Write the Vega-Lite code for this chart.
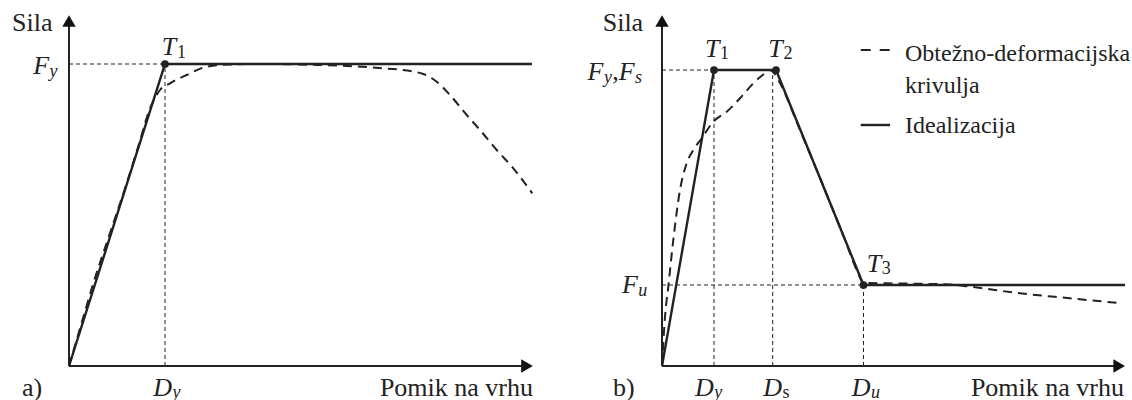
{
  "$schema": "https://vega.github.io/schema/vega-lite/v6.json",
  "padding": 0,
  "spacing": 0,
  "bounds": "flush",
  "background": "white",
  "config": {"view": {"stroke": null}, "text": {"font": "Liberation Serif", "color": "#222"}},
  "datasets": {
    "curves": [
      {"panel": "a", "series": "curve", "x": 0, "y": 0},
      {"panel": "a", "series": "curve", "x": 1.2, "y": 4.1},
      {"panel": "a", "series": "curve", "x": 2.43, "y": 8.27},
      {"panel": "a", "series": "curve", "x": 4.1, "y": 13.3},
      {"panel": "a", "series": "curve", "x": 5.77, "y": 18.27},
      {"panel": "a", "series": "curve", "x": 7.0, "y": 22.2},
      {"panel": "a", "series": "curve", "x": 8.1, "y": 25.77},
      {"panel": "a", "series": "curve", "x": 8.6, "y": 26.8},
      {"panel": "a", "series": "curve", "x": 9.1, "y": 27.6},
      {"panel": "a", "series": "curve", "x": 10.1, "y": 28.27},
      {"panel": "a", "series": "curve", "x": 11.77, "y": 29.1},
      {"panel": "a", "series": "curve", "x": 13.77, "y": 29.93},
      {"panel": "a", "series": "curve", "x": 16.0, "y": 30.15},
      {"panel": "a", "series": "curve", "x": 19.1, "y": 30.2},
      {"panel": "a", "series": "curve", "x": 25.0, "y": 30.1},
      {"panel": "a", "series": "curve", "x": 31.0, "y": 29.8},
      {"panel": "a", "series": "curve", "x": 34.4, "y": 29.45},
      {"panel": "a", "series": "curve", "x": 35.43, "y": 29.2},
      {"panel": "a", "series": "curve", "x": 36.77, "y": 28.43},
      {"panel": "a", "series": "curve", "x": 38.1, "y": 27.1},
      {"panel": "a", "series": "curve", "x": 39.77, "y": 25.1},
      {"panel": "a", "series": "curve", "x": 41.1, "y": 23.6},
      {"panel": "a", "series": "curve", "x": 42.77, "y": 21.6},
      {"panel": "a", "series": "curve", "x": 44.43, "y": 19.77},
      {"panel": "a", "series": "curve", "x": 46.33, "y": 17.27},
      {"panel": "a", "series": "ideal", "x": 0, "y": 0},
      {"panel": "a", "series": "ideal", "x": 9.6, "y": 30.2},
      {"panel": "a", "series": "ideal", "x": 46.3, "y": 30.2},
      {"panel": "b", "series": "curve", "x": 0, "y": 0},
      {"panel": "b", "series": "curve", "x": 0.3, "y": 4.9},
      {"panel": "b", "series": "curve", "x": 0.63, "y": 7.93},
      {"panel": "b", "series": "curve", "x": 1.13, "y": 12.6},
      {"panel": "b", "series": "curve", "x": 1.8, "y": 17.6},
      {"panel": "b", "series": "curve", "x": 2.47, "y": 20.27},
      {"panel": "b", "series": "curve", "x": 3.13, "y": 21.6},
      {"panel": "b", "series": "curve", "x": 3.97, "y": 22.77},
      {"panel": "b", "series": "curve", "x": 5.13, "y": 24.43},
      {"panel": "b", "series": "curve", "x": 6.47, "y": 25.43},
      {"panel": "b", "series": "curve", "x": 7.8, "y": 26.77},
      {"panel": "b", "series": "curve", "x": 9.13, "y": 28.27},
      {"panel": "b", "series": "curve", "x": 10.2, "y": 29.2},
      {"panel": "b", "series": "curve", "x": 10.8, "y": 29.6},
      {"panel": "b", "series": "curve", "x": 11.2, "y": 29.3},
      {"panel": "b", "series": "curve", "x": 11.8, "y": 28.3},
      {"panel": "b", "series": "curve", "x": 13.8, "y": 23.6},
      {"panel": "b", "series": "curve", "x": 15.8, "y": 18.8},
      {"panel": "b", "series": "curve", "x": 18.3, "y": 12.6},
      {"panel": "b", "series": "curve", "x": 19.6, "y": 9.3},
      {"panel": "b", "series": "curve", "x": 20.15, "y": 8.3},
      {"panel": "b", "series": "curve", "x": 23.8, "y": 8.25},
      {"panel": "b", "series": "curve", "x": 28.8, "y": 8.15},
      {"panel": "b", "series": "curve", "x": 30.8, "y": 7.93},
      {"panel": "b", "series": "curve", "x": 35.8, "y": 7.27},
      {"panel": "b", "series": "curve", "x": 40.8, "y": 6.77},
      {"panel": "b", "series": "curve", "x": 45.97, "y": 6.27},
      {"panel": "b", "series": "ideal", "x": 0, "y": 0},
      {"panel": "b", "series": "ideal", "x": 5.2, "y": 29.6},
      {"panel": "b", "series": "ideal", "x": 11.4, "y": 29.6},
      {"panel": "b", "series": "ideal", "x": 20.15, "y": 8.1},
      {"panel": "b", "series": "ideal", "x": 46.3, "y": 8.1}
    ],
    "points": [
      {"panel": "a", "name": "T1", "x": 9.6, "y": 30.2},
      {"panel": "b", "name": "T1", "x": 5.2, "y": 29.6},
      {"panel": "b", "name": "T2", "x": 11.4, "y": 29.6},
      {"panel": "b", "name": "T3", "x": 20.15, "y": 8.1}
    ],
    "guides": [
      {"panel": "a", "x": 0, "y": 30.2, "x2": 9.6, "y2": 30.2},
      {"panel": "a", "x": 9.6, "y": 0, "x2": 9.6, "y2": 30.2},
      {"panel": "b", "x": 0, "y": 29.6, "x2": 5.2, "y2": 29.6},
      {"panel": "b", "x": 5.2, "y": 0, "x2": 5.2, "y2": 29.6},
      {"panel": "b", "x": 11.07, "y": 0, "x2": 11.07, "y2": 29.6},
      {"panel": "b", "x": 0, "y": 8.1, "x2": 20.15, "y2": 8.1},
      {"panel": "b", "x": 20.15, "y": 0, "x2": 20.15, "y2": 8.1}
    ],
    "axes": [
      {"panel": "a", "x": 0, "y": 0, "x2": 0, "y2": 34.2},
      {"panel": "a", "x": 0, "y": 0, "x2": 45.6, "y2": 0},
      {"panel": "b", "x": 0, "y": 0, "x2": 0, "y2": 34.2},
      {"panel": "b", "x": 0, "y": 0, "x2": 45.5, "y2": 0}
    ],
    "arrows": [
      {"panel": "a", "axis": "y", "x": 0, "y": 34.5},
      {"panel": "a", "axis": "x", "x": 45.8, "y": 0},
      {"panel": "b", "axis": "y", "x": 0, "y": 34.5},
      {"panel": "b", "axis": "x", "x": 45.72, "y": 0}
    ],
    "legend": [
      {"panel": "b", "kind": "curve", "x": 19.87, "y": 31.6, "x2": 22.8, "y2": 31.6},
      {"panel": "b", "kind": "ideal", "x": 19.87, "y": 24.1, "x2": 22.8, "y2": 24.1}
    ],
    "labels": [
      {"panel": "a", "role": "textL", "x": -5.7, "y": 33.55, "text": "Sila"},
      {"panel": "a", "role": "main", "x": -3.57, "y": 29.17, "text": "F"},
      {"panel": "a", "role": "sub", "x": -1.95, "y": 28.95, "text": "y"},
      {"panel": "a", "role": "main", "x": 9.27, "y": 31.1, "text": "T"},
      {"panel": "a", "role": "num", "x": 10.8, "y": 30.85, "text": "1"},
      {"panel": "a", "role": "main", "x": 8.43, "y": -3.0, "text": "D"},
      {"panel": "a", "role": "sub", "x": 10.35, "y": -3.2, "text": "y"},
      {"panel": "a", "role": "textL", "x": -4.7, "y": -3.0, "text": "a)"},
      {"panel": "a", "role": "textR", "x": 46.4, "y": -2.95, "text": "Pomik na vrhu"},
      {"panel": "b", "role": "textL", "x": -5.93, "y": 33.55, "text": "Sila"},
      {"panel": "b", "role": "main", "x": -7.45, "y": 28.6, "text": "F"},
      {"panel": "b", "role": "sub", "x": -5.8, "y": 28.35, "text": "y"},
      {"panel": "b", "role": "textL", "x": -4.98, "y": 28.6, "text": ","},
      {"panel": "b", "role": "main", "x": -4.32, "y": 28.6, "text": "F"},
      {"panel": "b", "role": "sub", "x": -2.7, "y": 28.35, "text": "s"},
      {"panel": "b", "role": "main", "x": -4.0, "y": 7.3, "text": "F"},
      {"panel": "b", "role": "sub", "x": -2.38, "y": 7.05, "text": "u"},
      {"panel": "b", "role": "main", "x": 4.3, "y": 30.9, "text": "T"},
      {"panel": "b", "role": "num", "x": 5.8, "y": 30.7, "text": "1"},
      {"panel": "b", "role": "main", "x": 10.63, "y": 30.9, "text": "T"},
      {"panel": "b", "role": "num", "x": 12.15, "y": 30.7, "text": "2"},
      {"panel": "b", "role": "main", "x": 20.47, "y": 9.4, "text": "T"},
      {"panel": "b", "role": "num", "x": 21.97, "y": 9.2, "text": "3"},
      {"panel": "b", "role": "main", "x": 3.3, "y": -3.0, "text": "D"},
      {"panel": "b", "role": "sub", "x": 5.22, "y": -3.2, "text": "y"},
      {"panel": "b", "role": "main", "x": 10.13, "y": -3.0, "text": "D"},
      {"panel": "b", "role": "num", "x": 12.05, "y": -3.2, "text": "s"},
      {"panel": "b", "role": "main", "x": 18.97, "y": -3.0, "text": "D"},
      {"panel": "b", "role": "sub", "x": 20.89, "y": -3.2, "text": "u"},
      {"panel": "b", "role": "textL", "x": -4.9, "y": -3.0, "text": "b)"},
      {"panel": "b", "role": "textR", "x": 46.2, "y": -2.95, "text": "Pomik na vrhu"},
      {"panel": "b", "role": "legend", "x": 24.3, "y": 30.5, "text": "Obtežno-deformacijska"},
      {"panel": "b", "role": "legend", "x": 24.3, "y": 27.3, "text": "krivulja"},
      {"panel": "b", "role": "legend", "x": 24.3, "y": 23.3, "text": "Idealizacija"}
    ]
  },
  "hconcat": [
    {
      "width": 566,
      "height": 400,
      "encoding": {
        "x": {"field": "x", "type": "quantitative", "scale": {"domain": [-6.9, 49.7], "nice": false, "zero": false}, "axis": null},
        "y": {"field": "y", "type": "quantitative", "scale": {"domain": [-3.4, 36.6], "nice": false, "zero": false}, "axis": null}
      },
      "layer": [
        {"data": {"name": "guides"}, "transform": [{"filter": "datum.panel === 'a'"}], "mark": {"type": "rule", "strokeDash": [4, 3], "strokeWidth": 1, "color": "#222"}, "encoding": {"x2": {"field": "x2"}, "y2": {"field": "y2"}}},
        {"data": {"name": "axes"}, "transform": [{"filter": "datum.panel === 'a'"}], "mark": {"type": "rule", "strokeWidth": 2, "color": "#222"}, "encoding": {"x2": {"field": "x2"}, "y2": {"field": "y2"}}},
        {"data": {"name": "arrows"}, "transform": [{"filter": "datum.panel === 'a' && datum.axis === 'y'"}], "mark": {"type": "point", "shape": "triangle-up", "filled": true, "size": 180, "color": "#111", "opacity": 1}},
        {"data": {"name": "arrows"}, "transform": [{"filter": "datum.panel === 'a' && datum.axis === 'x'"}], "mark": {"type": "point", "shape": "triangle-right", "filled": true, "size": 180, "color": "#111", "opacity": 1}},
        {"data": {"name": "curves"}, "transform": [{"filter": "datum.panel === 'a' && datum.series === 'curve'"}], "mark": {"type": "line", "strokeDash": [9, 6], "strokeWidth": 2, "color": "#222", "interpolate": "monotone"}},
        {"data": {"name": "curves"}, "transform": [{"filter": "datum.panel === 'a' && datum.series === 'ideal'"}], "mark": {"type": "line", "strokeWidth": 2.4, "color": "#222"}},
        {"data": {"name": "points"}, "transform": [{"filter": "datum.panel === 'a'"}], "mark": {"type": "circle", "size": 60, "color": "#222", "opacity": 1}},
        {"data": {"name": "labels"}, "transform": [{"filter": "datum.panel === 'a' && datum.role === 'main'"}], "mark": {"type": "text", "font": "Liberation Serif", "align": "left", "baseline": "alphabetic", "fontSize": 26, "fontStyle": "italic"}, "encoding": {"text": {"field": "text"}}},
        {"data": {"name": "labels"}, "transform": [{"filter": "datum.panel === 'a' && datum.role === 'sub'"}], "mark": {"type": "text", "font": "Liberation Serif", "align": "left", "baseline": "alphabetic", "fontSize": 18, "fontStyle": "italic"}, "encoding": {"text": {"field": "text"}}},
        {"data": {"name": "labels"}, "transform": [{"filter": "datum.panel === 'a' && datum.role === 'num'"}], "mark": {"type": "text", "font": "Liberation Serif", "align": "left", "baseline": "alphabetic", "fontSize": 18}, "encoding": {"text": {"field": "text"}}},
        {"data": {"name": "labels"}, "transform": [{"filter": "datum.panel === 'a' && datum.role === 'textL'"}], "mark": {"type": "text", "font": "Liberation Serif", "align": "left", "baseline": "alphabetic", "fontSize": 26}, "encoding": {"text": {"field": "text"}}},
        {"data": {"name": "labels"}, "transform": [{"filter": "datum.panel === 'a' && datum.role === 'textR'"}], "mark": {"type": "text", "font": "Liberation Serif", "align": "right", "baseline": "alphabetic", "fontSize": 26}, "encoding": {"text": {"field": "text"}}}
      ]
    },
    {
      "width": 566,
      "height": 400,
      "encoding": {
        "x": {"field": "x", "type": "quantitative", "scale": {"domain": [-9.6, 47.0], "nice": false, "zero": false}, "axis": null},
        "y": {"field": "y", "type": "quantitative", "scale": {"domain": [-3.4, 36.6], "nice": false, "zero": false}, "axis": null}
      },
      "layer": [
        {"data": {"name": "guides"}, "transform": [{"filter": "datum.panel === 'b'"}], "mark": {"type": "rule", "strokeDash": [4, 3], "strokeWidth": 1, "color": "#222"}, "encoding": {"x2": {"field": "x2"}, "y2": {"field": "y2"}}},
        {"data": {"name": "axes"}, "transform": [{"filter": "datum.panel === 'b'"}], "mark": {"type": "rule", "strokeWidth": 2, "color": "#222"}, "encoding": {"x2": {"field": "x2"}, "y2": {"field": "y2"}}},
        {"data": {"name": "arrows"}, "transform": [{"filter": "datum.panel === 'b' && datum.axis === 'y'"}], "mark": {"type": "point", "shape": "triangle-up", "filled": true, "size": 180, "color": "#111", "opacity": 1}},
        {"data": {"name": "arrows"}, "transform": [{"filter": "datum.panel === 'b' && datum.axis === 'x'"}], "mark": {"type": "point", "shape": "triangle-right", "filled": true, "size": 180, "color": "#111", "opacity": 1}},
        {"data": {"name": "legend"}, "transform": [{"filter": "datum.kind === 'curve'"}], "mark": {"type": "rule", "strokeDash": [10, 9], "strokeWidth": 2, "color": "#222"}, "encoding": {"x2": {"field": "x2"}, "y2": {"field": "y2"}}},
        {"data": {"name": "legend"}, "transform": [{"filter": "datum.kind === 'ideal'"}], "mark": {"type": "rule", "strokeWidth": 2.4, "color": "#222"}, "encoding": {"x2": {"field": "x2"}, "y2": {"field": "y2"}}},
        {"data": {"name": "curves"}, "transform": [{"filter": "datum.panel === 'b' && datum.series === 'curve'"}], "mark": {"type": "line", "strokeDash": [9, 6], "strokeWidth": 2, "color": "#222", "interpolate": "monotone"}},
        {"data": {"name": "curves"}, "transform": [{"filter": "datum.panel === 'b' && datum.series === 'ideal'"}], "mark": {"type": "line", "strokeWidth": 2.4, "color": "#222"}},
        {"data": {"name": "points"}, "transform": [{"filter": "datum.panel === 'b'"}], "mark": {"type": "circle", "size": 60, "color": "#222", "opacity": 1}},
        {"data": {"name": "labels"}, "transform": [{"filter": "datum.panel === 'b' && datum.role === 'main'"}], "mark": {"type": "text", "font": "Liberation Serif", "align": "left", "baseline": "alphabetic", "fontSize": 26, "fontStyle": "italic"}, "encoding": {"text": {"field": "text"}}},
        {"data": {"name": "labels"}, "transform": [{"filter": "datum.panel === 'b' && datum.role === 'sub'"}], "mark": {"type": "text", "font": "Liberation Serif", "align": "left", "baseline": "alphabetic", "fontSize": 18, "fontStyle": "italic"}, "encoding": {"text": {"field": "text"}}},
        {"data": {"name": "labels"}, "transform": [{"filter": "datum.panel === 'b' && datum.role === 'num'"}], "mark": {"type": "text", "font": "Liberation Serif", "align": "left", "baseline": "alphabetic", "fontSize": 18}, "encoding": {"text": {"field": "text"}}},
        {"data": {"name": "labels"}, "transform": [{"filter": "datum.panel === 'b' && datum.role === 'textL'"}], "mark": {"type": "text", "font": "Liberation Serif", "align": "left", "baseline": "alphabetic", "fontSize": 26}, "encoding": {"text": {"field": "text"}}},
        {"data": {"name": "labels"}, "transform": [{"filter": "datum.panel === 'b' && datum.role === 'textR'"}], "mark": {"type": "text", "font": "Liberation Serif", "align": "right", "baseline": "alphabetic", "fontSize": 26}, "encoding": {"text": {"field": "text"}}},
        {"data": {"name": "labels"}, "transform": [{"filter": "datum.panel === 'b' && datum.role === 'legend'"}], "mark": {"type": "text", "font": "Liberation Serif", "align": "left", "baseline": "alphabetic", "fontSize": 24}, "encoding": {"text": {"field": "text"}}}
      ]
    }
  ]
}
